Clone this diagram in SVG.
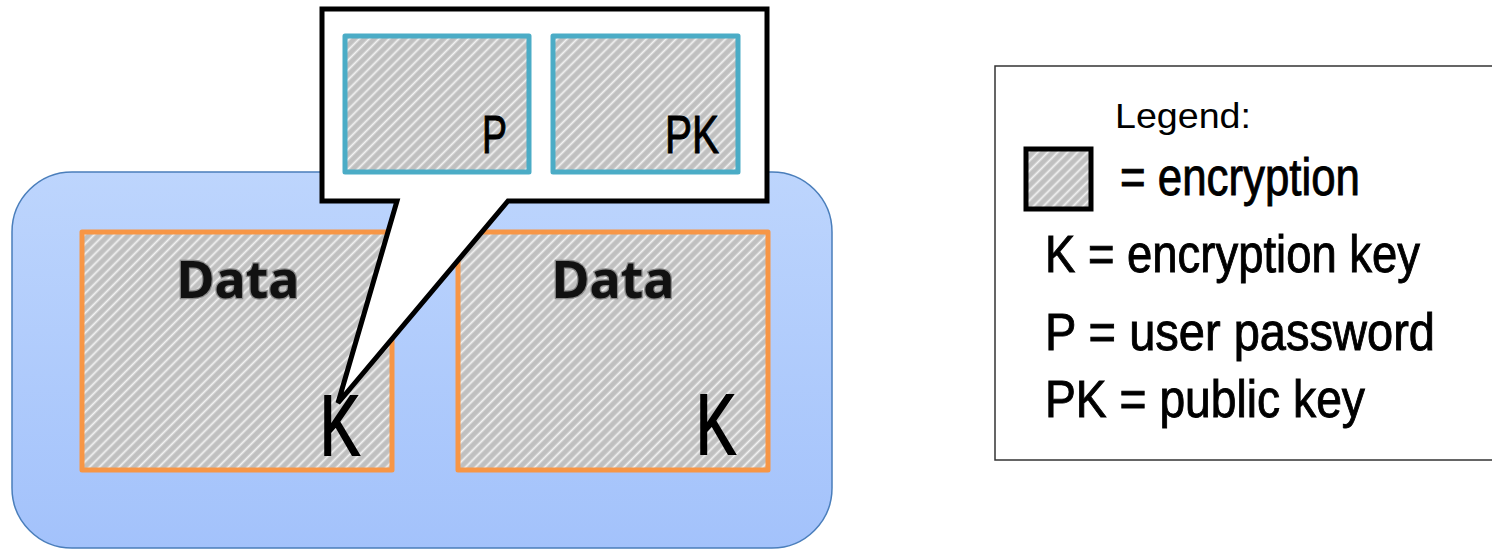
<svg xmlns="http://www.w3.org/2000/svg" width="1492" height="550" viewBox="0 0 1492 550">
<defs>
<linearGradient id="blueGrad" x1="0" y1="0" x2="0" y2="1">
<stop offset="0" stop-color="#bdd5fd"/>
<stop offset="1" stop-color="#a3c2fb"/>
</linearGradient>
<linearGradient id="stripe" x1="0" y1="0" x2="1" y2="0">
<stop offset="0" stop-color="#c0c0c0"/>
<stop offset="0.5" stop-color="#f6f6f6"/>
<stop offset="1" stop-color="#c0c0c0"/>
</linearGradient>
<pattern id="hatch" patternUnits="userSpaceOnUse" width="7" height="7" patternTransform="rotate(45)">
<rect width="7" height="7" fill="#c0c0c0"/>
<rect x="0" y="0" width="3.2" height="7" fill="url(#stripe)"/>
</pattern>
<style>
.orange{fill:url(#hatch);stroke:#f79646;stroke-width:5;stroke-linejoin:round}
.teal{fill:url(#hatch);stroke:#4bacc6;stroke-width:5;stroke-linejoin:round}
.data{font-family:"Noto Sans","Open Sans",sans-serif;font-weight:bold;font-size:52px;fill:#111;stroke:#8a8a8a;stroke-width:2.5;paint-order:stroke;text-anchor:middle}
.big{font-family:"Liberation Sans",Arial,sans-serif;font-size:86px;fill:#000;stroke:#000;stroke-width:2}
.mid{font-family:"Liberation Sans",Arial,sans-serif;font-size:53px;fill:#000;stroke:#000;stroke-width:1}
.leg{font-family:"Liberation Sans",Arial,sans-serif;font-size:51px;fill:#000;stroke:#000;stroke-width:0.9}
</style>
</defs>
<g id="container">
<rect x="12" y="172" width="820" height="376" rx="60" ry="60" fill="url(#blueGrad)" stroke="#4a7ebb" stroke-width="1.5"/>
</g>
<g id="data1">
<rect class="orange" x="82" y="232" width="310" height="238"/>
<text class="data" x="238" y="298">Data</text>
<text class="big" x="320" y="455" textLength="40" lengthAdjust="spacingAndGlyphs">K</text>
</g>
<g id="data2">
<rect class="orange" x="458" y="232" width="310" height="238"/>
<text class="data" x="613" y="298">Data</text>
<text class="big" x="696" y="454" textLength="40" lengthAdjust="spacingAndGlyphs">K</text>
</g>
<g id="connectors">
<path d="M322,9 H767 V201 H508 L338,403 L397,201 H322 Z" fill="#fff" stroke="#000" stroke-width="5" stroke-linejoin="miter"/>
</g>
<g id="passwordP">
<rect class="teal" x="345" y="36" width="184" height="136"/>
<text class="mid" x="482" y="153" textLength="25" lengthAdjust="spacingAndGlyphs">P</text>
</g>
<g id="publicKeyPK">
<rect class="teal" x="553" y="36" width="185" height="136"/>
<text class="mid" x="665" y="153" textLength="54" lengthAdjust="spacingAndGlyphs">PK</text>
</g>
<g id="legend">
<rect x="995" y="66" width="510" height="394" fill="#fff" stroke="#333" stroke-width="1.5"/>
<text x="1115" y="128" font-family="'Liberation Sans',Arial,sans-serif" font-size="35" textLength="136" lengthAdjust="spacingAndGlyphs">Legend:</text>
<rect x="1026" y="149" width="65" height="60" fill="url(#hatch)" stroke="#000" stroke-width="5"/>
<text class="leg" x="1120" y="195" textLength="240" lengthAdjust="spacingAndGlyphs">= encryption</text>
<text class="leg" x="1045" y="272" textLength="375" lengthAdjust="spacingAndGlyphs">K = encryption key</text>
<text class="leg" x="1045" y="350" textLength="390" lengthAdjust="spacingAndGlyphs">P = user password</text>
<text class="leg" x="1045" y="417" textLength="320" lengthAdjust="spacingAndGlyphs">PK = public key</text>
</g>
</svg>
